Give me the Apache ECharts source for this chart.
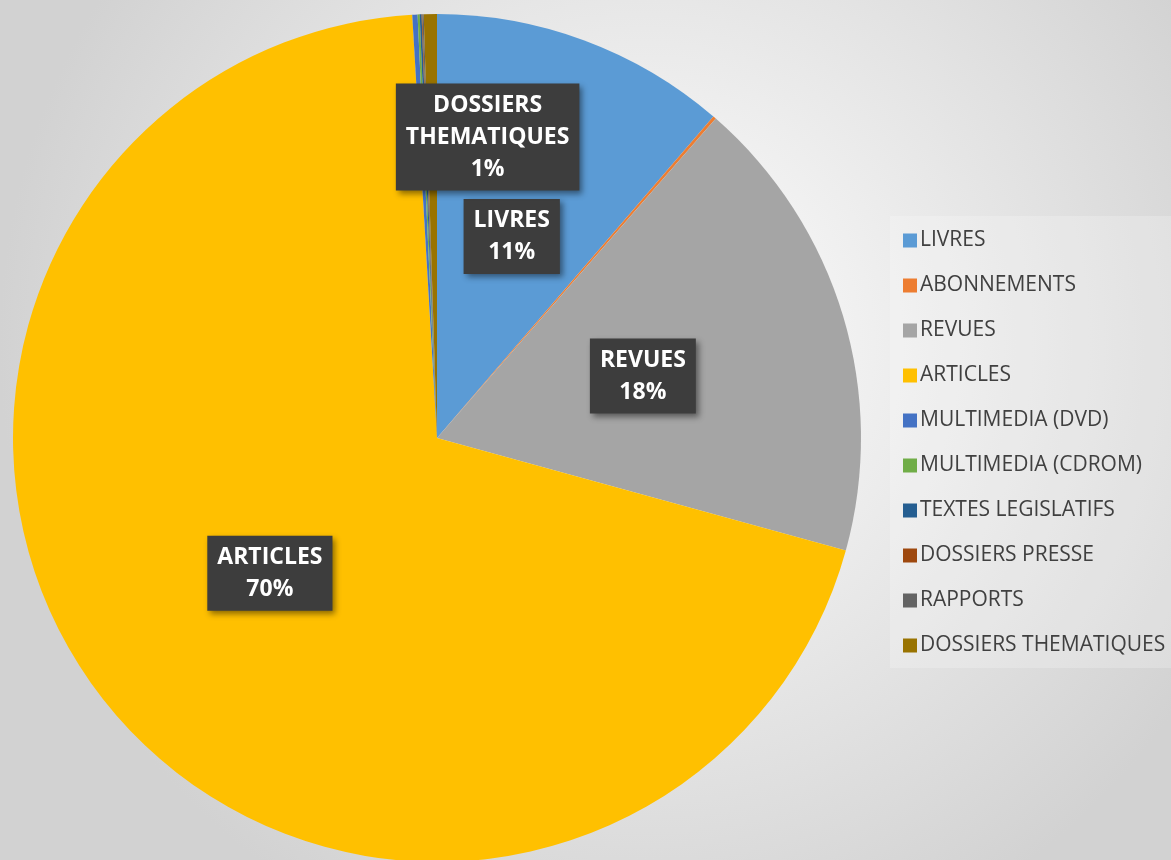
<!DOCTYPE html>
<html>
<head>
<meta charset="utf-8">
<script src="https://cdn.jsdelivr.net/npm/echarts@6/dist/echarts.min.js"></script>
<style>
  html, body { margin: 0; padding: 0; }
  #chart { width: 1171px; height: 860px; }
</style>
</head>
<body>
<div id="chart"></div>
<script>
const categories = [
  'LIVRES',
  'ABONNEMENTS',
  'REVUES',
  'ARTICLES',
  'MULTIMEDIA (DVD)',
  'MULTIMEDIA (CDROM)',
  'TEXTES LEGISLATIFS',
  'DOSSIERS PRESSE',
  'RAPPORTS',
  'DOSSIERS THEMATIQUES',
]
const values = [11.3, 0.12, 17.85, 69.8, 0.2, 0.08, 0.07, 0.03, 0.05, 0.5]
const labelled = ['LIVRES', 'REVUES', 'ARTICLES', 'DOSSIERS THEMATIQUES']
const colors = [
  '#5b9bd5',
  '#ed7d31',
  '#a5a5a5',
  '#ffc000',
  '#4472c4',
  '#70ad47',
  '#255e91',
  '#9e480e',
  '#636363',
  '#997300',
]

const total = values.reduce((a, b) => a + b, 0)

const chart = echarts.init(document.getElementById('chart'))

const option = {
  backgroundColor: new echarts.graphic.RadialGradient(0.55, 0.4, 0.75, [
    { offset: 0, color: '#ffffff' },
    { offset: 1, color: '#d2d2d2' },
  ]),
  color: colors,
  animation: false,
  legend: {
    orient: 'vertical',
    left: 890,
    top: 216,
    padding: [14, 10, 12, 13],
    backgroundColor: 'rgba(255,255,255,0.22)',
    icon: 'rect',
    itemWidth: 14,
    itemHeight: 14,
    itemGap: 24,
    textStyle: {
      fontFamily: 'Open Sans',
      fontSize: 21,
      lineHeight: 20,
      color: '#404040',
      padding: [0, 0, 0, -2],
    },
    data: categories,
  },
  series: [
    {
      type: 'pie',
      center: [437, 438],
      radius: 424,
      startAngle: 90,
      clockwise: true,
      avoidLabelOverlap: false,
      itemStyle: { borderWidth: 0 },
      label: {
        position: 'inside',
        formatter(p) {
          return p.name.split(' ').join('\n') + '\n' + Math.round((p.value / total) * 100) + '%'
        },
        fontFamily: 'Open Sans',
        fontWeight: 'bold',
        fontSize: 23,
        lineHeight: 32,
        color: '#ffffff',
        backgroundColor: '#3d3d3d',
        padding: [6, 10, 5, 10],
        shadowColor: 'rgba(0,0,0,0.45)',
        shadowBlur: 6,
        shadowOffsetX: 3,
        shadowOffsetY: 3,
        textShadowColor: 'transparent',
      },
      labelLine: { show: false },
      labelLayout(params) {
        if (params.dataIndex === categories.indexOf('DOSSIERS THEMATIQUES')) {
          return { dx: 54, dy: -86 }
        }
        return {}
      },
      emphasis: { disabled: true },
      data: categories.map((name, i) => ({
        name: name,
        value: values[i],
        label: { show: labelled.indexOf(name) >= 0 },
      })),
    },
  ],
}

chart.setOption(option)
</script>
</body>
</html>
